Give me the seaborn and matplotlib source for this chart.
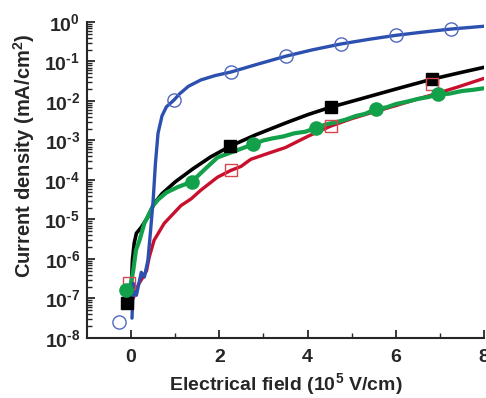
import numpy as np
import pandas as pd
import seaborn as sns
import matplotlib
matplotlib.use("Agg")
import matplotlib.pyplot as plt
from matplotlib.ticker import LogLocator, FixedLocator, FuncFormatter

# values (y given as log10 of current density, mA/cm^2)
blue_x = [0.02, 0.05, 0.12, 0.23, 0.30, 0.38, 0.44, 0.50, 0.55, 0.61, 0.70, 0.80, 0.97, 1.1, 1.3, 1.58, 1.9,
          2.26, 2.9, 3.5, 4.1, 4.75, 5.4, 6.0, 6.6, 7.26, 8.0]
blue_log = [-7.5, -6.62, -6.92, -6.34, -6.46, -6.04, -5.3, -4.51, -3.6, -2.82, -2.38, -2.15, -1.98, -1.82,
            -1.63, -1.47, -1.36, -1.27, -1.06, -0.87, -0.71, -0.56, -0.44, -0.34, -0.26, -0.18, -0.11]
blue_mx = [-0.27, 0.97, 2.26, 3.5, 4.75, 6.0, 7.26]
blue_mlog = [-7.6, -1.98, -1.27, -0.87, -0.56, -0.34, -0.18]

black_x = [-0.04, 0.0, 0.03, 0.07, 0.12, 0.23, 0.38, 0.52, 0.7, 1.0, 1.4, 1.8, 2.24, 2.8, 3.5, 4.0, 4.52,
           5.2, 6.0, 6.82, 7.4, 8.0]
black_log = [-7.17, -6.8, -6.03, -5.6, -5.35, -5.2, -4.94, -4.6, -4.35, -4.05, -3.72, -3.42, -3.15, -2.87,
             -2.56, -2.35, -2.16, -1.95, -1.7, -1.45, -1.3, -1.15]
black_mx = [-0.09, 2.24, 4.52, 6.82]
black_mlog = [-7.12, -3.15, -2.16, -1.45]

red_x = [0.05, 0.11, 0.18, 0.27, 0.35, 0.41, 0.52, 0.75, 1.13, 1.36, 1.58, 1.96, 2.26, 2.49, 2.71, 3.1, 3.5,
         4.0, 4.52, 5.0, 5.5, 6.0, 6.5, 6.82, 7.4, 8.0]
red_log = [-7.0, -6.79, -6.62, -6.46, -6.3, -5.96, -5.53, -5.1, -4.65, -4.48, -4.26, -3.93, -3.76, -3.66,
           -3.48, -3.33, -3.18, -2.9, -2.64, -2.45, -2.28, -2.12, -1.95, -1.85, -1.65, -1.43]
red_mx = [-0.05, 2.26, 4.52, 6.82]
red_mlog = [-6.62, -3.76, -2.64, -1.56]

green_x = [-0.1, 0.0, 0.05, 0.11, 0.19, 0.3, 0.5, 0.61, 0.8, 1.06, 1.37, 1.7, 1.96, 2.4, 2.76, 3.0, 3.2,
           3.45, 3.7, 3.95, 4.18, 4.4, 4.6, 4.85, 5.1, 5.3, 5.54, 5.8, 6.0, 6.25, 6.5, 6.75, 6.96, 7.2,
           7.5, 7.75, 8.0]
green_log = [-6.85, -6.6, -6.28, -5.78, -5.53, -5.1, -4.65, -4.5, -4.32, -4.18, -4.05, -3.7, -3.43, -3.25,
             -3.1, -3.0, -2.95, -2.9, -2.82, -2.78, -2.69, -2.6, -2.55, -2.48, -2.38, -2.33, -2.21, -2.16,
             -2.08, -2.02, -1.95, -1.9, -1.83, -1.82, -1.75, -1.72, -1.68]
green_mx = [-0.11, 1.37, 2.76, 4.18, 5.54, 6.96]
green_mlog = [-6.79, -4.05, -3.10, -2.69, -2.21, -1.83]

c_blue = "#2c50b0"
c_black = "#000000"
c_red = "#c8102e"
c_green = "#13a04a"

sns.set_style("ticks")
plt.rcParams["font.family"] = ["Liberation Sans", "DejaVu Sans"]
plt.rcParams["font.weight"] = "bold"
plt.rcParams["mathtext.fontset"] = "custom"
plt.rcParams["mathtext.rm"] = "Liberation Sans:bold"
plt.rcParams["mathtext.it"] = "Liberation Sans:bold"
plt.rcParams["mathtext.bf"] = "Liberation Sans:bold"

fig = plt.figure(figsize=(4.86, 3.98), dpi=100)
ax = fig.add_axes([0.179, 0.151, 0.817, 0.794])

def df(x, lg):
    return pd.DataFrame({"x": x, "y": 10 ** np.array(lg)})

# lines
sns.lineplot(data=df(black_x, black_log), x="x", y="y", sort=False, estimator=None, color=c_black, lw=2.6, ax=ax)
sns.lineplot(data=df(red_x, red_log), x="x", y="y", sort=False, estimator=None, color=c_red, lw=2.4, ax=ax)
sns.lineplot(data=df(green_x, green_log), x="x", y="y", sort=False, estimator=None, color=c_green, lw=3.0, ax=ax)
sns.lineplot(data=df(blue_x, blue_log), x="x", y="y", sort=False, estimator=None, color=c_blue, lw=2.4, ax=ax)

# markers
ax.plot(black_mx, 10 ** np.array(black_mlog), ls="none", marker="s", ms=8.5, color=c_black)
ax.plot(red_mx, 10 ** np.array(red_mlog), ls="none", marker="s", ms=8, mfc="none", mec="#d64550", mew=1.0)
ax.plot(green_mx, 10 ** np.array(green_mlog), ls="none", marker="o", ms=9.5, color=c_green)
ax.plot(blue_mx, 10 ** np.array(blue_mlog), ls="none", marker="o", ms=9.5, mfc="none", mec="#5068c0", mew=1.0)

ax.set_yscale("log")
ax.set_xlim(-1, 8)
ax.set_ylim(1e-8, 1)
ax.set_xticks([0, 2, 4, 6, 8])
ax.xaxis.set_minor_locator(FixedLocator([1, 3, 5, 7]))
ax.yaxis.set_major_locator(LogLocator(base=10, numticks=12))
ax.yaxis.set_minor_locator(LogLocator(base=10, subs=np.arange(2, 10), numticks=12))

def fmt(v, p):
    e = int(round(np.log10(v)))
    if e < 0:
        return r"$10^{\text{-}%d}$" % (-e)
    return r"$10^{%d}$" % e

ax.yaxis.set_major_formatter(FuncFormatter(fmt))

sns.despine(ax=ax)
for s in ["left", "bottom"]:
    ax.spines[s].set_linewidth(1.5)
ax.tick_params(which="major", direction="in", length=6, width=1.3, pad=5)
ax.tick_params(axis="y", labelsize=14)
ax.tick_params(axis="x", labelsize=14, pad=8)
ax.tick_params(which="minor", direction="in", length=3.5, width=1.0)

ax.set_xlabel(r"Electrical field (10$^5$ V/cm)", fontsize=14, fontweight="bold", labelpad=4)
ax.set_ylabel(r"Current density (mA/cm$^2$)", fontsize=14.5, fontweight="bold")
ax.yaxis.set_label_coords(-0.125, 0.575)

fig.savefig("out.png", dpi=100)
